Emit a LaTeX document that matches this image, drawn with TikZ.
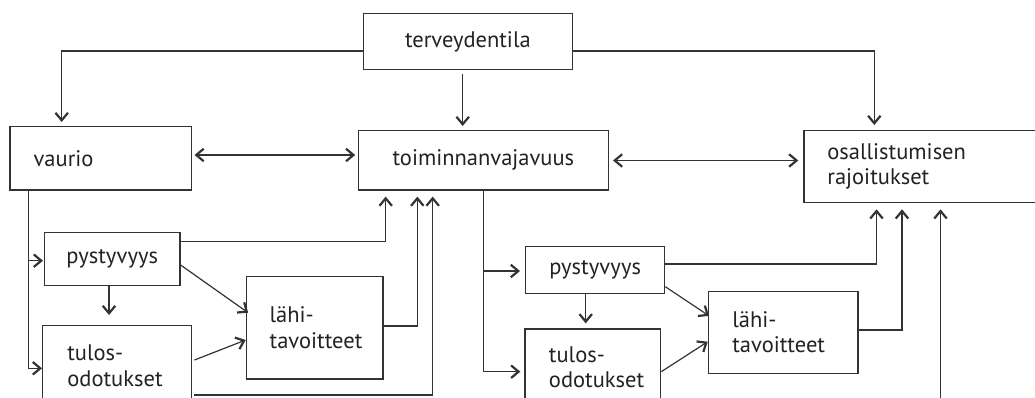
\documentclass[tikz,border=0pt]{standalone}
\usepackage{fontspec}
\setmainfont{PT Sans}
\usetikzlibrary{arrows.meta}
\definecolor{linec}{HTML}{333333}
\definecolor{textc}{HTML}{222222}
\tikzset{
  ln/.style={line width=1.2pt, draw=linec},
  tipV/.tip={Straight Barb[length=7.5pt,width=12.5pt,line width=2.2pt]},
  arr/.style={ln, -tipV},
  darr/.style={ln, tipV-tipV},
  box/.style={draw=linec, line width=1.3pt, rectangle, anchor=north west,
    inner sep=0pt, text=textc, font=\fontsize{22.5}{25.5}\selectfont},
  lbox/.style={box, align=left}
}
\begin{document}
\begin{tikzpicture}[x=1pt,y=-1pt]
\useasboundingbox (0,0) rectangle (1035,398);
\clip (0,0) rectangle (1035,398);

% boxes
\node[box, minimum width=209pt, minimum height=56.3pt] (terv) at (362.7,12.7) {terveydentila};
\node[lbox, minimum height=63.3pt, text width=134pt, inner xsep=23.7pt] (vaur) at (9.3,126) {vaurio};
\node[box, minimum width=250pt, minimum height=59.3pt] (toim) at (357.7,130) {toiminnanvajavuus};
\node[lbox, minimum height=71.7pt, text width=213.2pt, inner xsep=23.4pt] (osall) at (803.3,130) {osallistumisen\\rajoitukset};

\node[box, minimum width=135.3pt, minimum height=53.3pt] (pyst1) at (44,231.7) {pystyvyys};
\node[lbox, minimum height=80pt, text width=99.3pt, inner xsep=24.7pt] (tulos1) at (42,325) {tulos-\\odotukset};
\node[lbox, minimum height=102.6pt, text width=90pt, inner xsep=23.3pt] (lahi1) at (245.7,275.7) {lähi-\\tavoitteet};

\node[box, minimum width=139pt, minimum height=46.7pt] (pyst2) at (525,246) {pystyvyys};
\node[lbox, minimum height=77pt, text width=87.7pt, inner xsep=24pt] (tulos2) at (524.3,328.3) {tulos-\\odotukset};
\node[lbox, minimum height=82pt, text width=101.6pt, inner xsep=24pt] (lahi2) at (707.7,290.7) {lähi-\\tavoitteet};

% top level
\draw[arr, shorten >=4pt] (terv.west |- 0,51) -| (vaur.north -| 61.7,0);
\draw[arr, shorten <=3.7pt, shorten >=4pt] (terv.south -| 462.7,0) -- (toim.north -| 462.7,0);
\draw[arr, shorten >=5pt] (terv.east |- 0,51) -| (osall.north -| 874.3,0);
\draw[darr, shorten <=2.5pt, shorten >=2.5pt] (vaur.east |- 0,155) -- (toim.west |- 0,155);
\draw[darr, shorten <=4pt, shorten >=5pt] (toim.east |- 0,160.5) -- (osall.west |- 0,160.5);

% left group
\draw[arr, shorten >=1pt] (vaur.south -| 28.3,0) |- (pyst1.west |- 0,260.7);
\draw[arr] (vaur.south -| 28.3,0) |- (tulos1.west |- 0,368.3);
\draw[arr, shorten >=10pt] (pyst1.south -| 109,0) -- (tulos1.north -| 109,0);
\draw[arr, shorten >=6pt] (pyst1.east |- 0,241.7) -| (toim.south -| 385.7,0);
\draw[arr, shorten >=-3pt] (pyst1.east |- 0,265) -- (lahi1.west |- 0,311);
\draw[arr, shorten <=2.6pt] (tulos1.east |- 0,361) -- (lahi1.west |- 0,340);
\draw[arr, shorten >=6pt] (lahi1.east |- 0,326) -| (toim.south -| 417.3,0);
\draw[arr, shorten <=2.3pt, shorten >=6pt] (tulos1.east |- 0,395) -| (toim.south -| 432.7,0);

% right group
\draw[arr, shorten <=3pt, shorten >=5pt] (toim.south -| 483.3,0) |- (pyst2.west |- 0,271);
\draw[arr, shorten >=4pt] (toim.south -| 483.3,0) |- (tulos2.west |- 0,371.7);
\draw[arr, shorten >=5pt] (pyst2.south -| 585.7,0) -- (tulos2.north -| 585.7,0);
\draw[arr, shorten >=-1.6pt] (pyst2.east |- 0,286.7) -- (lahi2.west |- 0,315);
\draw[arr] (tulos2.east |- 0,371.7) -- (lahi2.west |- 0,341.7);
\draw[arr, shorten >=6.3pt] (pyst2.east |- 0,264) -| (osall.south -| 876.5,0);
\draw[arr, shorten >=6.3pt] (lahi2.east |- 0,330) -| (osall.south -| 902,0);
\coordinate (ext) at (940.5,400);
\draw[arr, shorten >=6.3pt] (ext) -- (osall.south -| ext);
\end{tikzpicture}
\end{document}
